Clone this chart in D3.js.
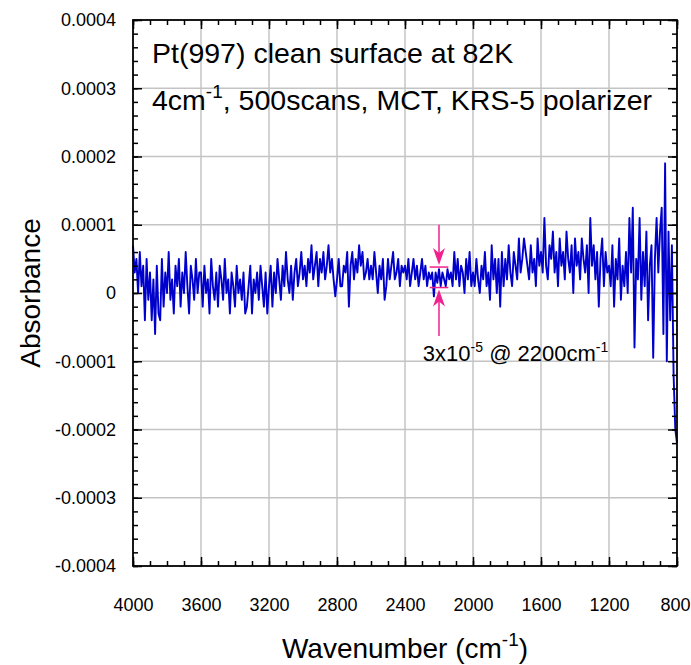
<!DOCTYPE html>
<html>
<head>
<meta charset="utf-8">
<script src="https://cdn.jsdelivr.net/npm/d3@7"></script>
<style>
  body { margin: 0; background: #fff; }
  text { font-family: Arial, "Liberation Sans", sans-serif; fill: #000; }
</style>
</head>
<body>
<svg id="chart" width="691" height="665"></svg>
<script>
// ── Data: absorbance in units of 1e-5, sampled every 10 cm-1 from 4000 down ──
const wnStart = 4000, wnStep = 10;
const seg4000 = [7, 3, 5, 0, 6, 1, 4, -4, 5, -1, 3, -4, 2, -6, 4, -3, -4, 5, -2, 3, 0, 6, -1, 2, -3, 4, 1, 5, -2, 3, 0, 6, 1, -3, 4, 2, -1, 5, 0, 3];
const seg3600 = [3, -2, 4, 0, 2, -3, 5, 1, -1, 3, -2, 4, 2, -1, 5, 0, 2, -3, 3, 1, -2, 4, 0, 2, -1, 3, -3, -2, 1, 4, -3, 2, 0, 3, -1, 4, 1, -2, 3, -3];
const seg3200 = [1, 4, -2, 3, 0, 5, 2, -1, 4, 1, 6, 2, 0, 4, -1, 3, 5, 1, 3, 6, 2, 4, 1, 5, 3, 7, 2, 4, 6, 1, 5, 3, 6, 2, 4, 7, 3, 5, 2, -0.5];
const seg2800 = [2, 5, 1, 1, 4, 3, 6, -2, 4, 6, 2, 5, 3, 7, 4, 6, 2, 3, 5, 2, 4, 2, 6, 3, 0, 4, 2, 5, -1, 1, 5, 2, 4, 6, 2, 3, 5, 1, 4, 3];
const seg2400 = [4, 2, 5, 1, 3, 5, 2, 4, 1, 3, 5, 2, 4, 1, 3, 2, 3, -0.5, 3, 1.5, 3.5, 1, 3, 2, 1, 3.5, 2, 3, 1, 6, 2, 5, 1, 4, 3, 0, 5, 2, 6, 1];
const seg2000 = [3, 1, 5, 2, 0, 4, 2, 6, 1, 3, -1, 7, 2, 5, 0, 5, -2, 6, 1, 5, 2, 7, 3, 1, 6, 4, 2, 8, 3, 5, 8, 6, 4, 2, 7, 3, 5, 1, 8, 4];
const seg1600 = [6, 3, 11, 4, 2, 7, 5, 9, 3, 6, 1, 8, 4, 6, 2, 9, 5, 3, 7, 0, 8, 4, 6, 2, 8, 5, 3, 7, 0, 11, 4, 7, 2, 6, -2, 5, 8, 1, 6, 3];
const seg1200 = [4, 1, 7, -2, 5, 2, 8, -1, 4, 1, 6, 0, 11, 3, 12.5, -8, 5, 2, 11, -1, 6, 1, 9, -4, 4, 7, -9.5, 5, 11, 3, 9, 12.5, -6, 19, -10, 9, -4, 7, -12, -20];
const seg800 = [-22];

const absorbance = [...seg4000, ...seg3600, ...seg3200, ...seg2800,
                    ...seg2400, ...seg2000, ...seg1600, ...seg1200, ...seg800];
const spectrum = absorbance.map((v, i) => ({ wn: wnStart - i * wnStep, a: v * 1e-5 }));

// ── Axis ticks ──
const xMajor = [4000, 3600, 3200, 2800, 2400, 2000, 1600, 1200, 800];
const yMajor = [-0.0004, -0.0003, -0.0002, -0.0001, 0, 0.0001, 0.0002, 0.0003, 0.0004];
const xMinor = d3.range(800, 4001, 100);
const yMinor = d3.range(-40, 41, 2).map(d => d * 1e-5);

const titleLines = ['Pt(997) clean surface at 82K'];
const noteWn = 2200;
const noteBand = [0.8e-5, 3.8e-5];

// ── Layout ──
const W = 691, H = 665;
const M = { top: 20, right: 14, bottom: 99, left: 133 };
const iw = W - M.left - M.right;
const ih = H - M.top - M.bottom;

const x = d3.scaleLinear().domain([4000, 800]).range([0, iw]);
const y = d3.scaleLinear().domain([-0.0004, 0.0004]).range([ih, 0]);

const svg = d3.select('#chart');
const g = svg.append('g').attr('transform', `translate(${M.left},${M.top})`);

// ── Grid ──
g.selectAll('.gx').data(xMajor.slice(1, -1)).join('line')
  .attr('x1', d => x(d)).attr('x2', d => x(d)).attr('y1', 0).attr('y2', ih)
  .attr('stroke', '#c4c4c4').attr('stroke-width', 1.5);
g.selectAll('.gy').data(yMajor.slice(1, -1)).join('line')
  .attr('x1', 0).attr('x2', iw).attr('y1', d => y(d)).attr('y2', d => y(d))
  .attr('stroke', '#c4c4c4').attr('stroke-width', 1.5);

// ── Spectrum ──
g.append('path').datum(spectrum)
  .attr('fill', 'none').attr('stroke', '#0000cc').attr('stroke-width', 1.9)
  .attr('stroke-linejoin', 'round')
  .attr('d', d3.line().x(d => x(d.wn)).y(d => y(d.a)));

// ── Axes (ticks inward on all four sides) ──
function styleAxis(a) {
  a.select('.domain').remove();
  a.selectAll('line').attr('stroke', '#000').attr('stroke-width', 1.5);
  a.selectAll('text').attr('font-size', 18).attr('fill', '#000')
    .attr('font-family', 'Arial, "Liberation Sans", sans-serif');
}
const noLab = () => '';
g.append('g').attr('transform', `translate(0,${ih})`)
  .call(d3.axisBottom(x).tickValues(xMinor).tickSize(-5).tickFormat(noLab)).call(styleAxis);
g.append('g').attr('transform', `translate(0,${ih})`)
  .call(d3.axisBottom(x).tickValues(xMajor).tickSize(-9).tickPadding(32).tickFormat(d3.format('d')))
  .call(styleAxis)
  .call(a => a.selectAll('.tick').filter(d => d === 800).select('text')
    .attr('text-anchor', 'end').attr('x', 13));
g.append('g')
  .call(d3.axisTop(x).tickValues(xMinor).tickSize(-5).tickFormat(noLab)).call(styleAxis);
g.append('g')
  .call(d3.axisTop(x).tickValues(xMajor).tickSize(-9).tickFormat(noLab)).call(styleAxis);

g.append('g')
  .call(d3.axisLeft(y).tickValues(yMinor).tickSize(-5).tickFormat(noLab)).call(styleAxis);
g.append('g')
  .call(d3.axisLeft(y).tickValues(yMajor).tickSize(-9).tickPadding(17)
    .tickFormat(d => Math.abs(d) < 1e-12 ? '0' : d.toFixed(4)))
  .call(styleAxis);
g.append('g').attr('transform', `translate(${iw},0)`)
  .call(d3.axisRight(y).tickValues(yMinor).tickSize(-5).tickFormat(noLab)).call(styleAxis);
g.append('g').attr('transform', `translate(${iw},0)`)
  .call(d3.axisRight(y).tickValues(yMajor).tickSize(-9).tickFormat(noLab)).call(styleAxis);

// Frame
g.append('rect').attr('width', iw).attr('height', ih)
  .attr('fill', 'none').attr('stroke', '#000').attr('stroke-width', 1.8);

// ── Title text inside plot ──
g.append('text').attr('x', 19).attr('y', 43).attr('font-size', 28.5).text(titleLines[0]);
const t2 = g.append('text').attr('x', 19).attr('y', 90).attr('font-size', 28.5);
t2.append('tspan').text('4cm');
t2.append('tspan').attr('dy', -12).attr('font-size', 19).text('-1');
t2.append('tspan').attr('dy', 12).text(', 500scans, MCT, KRS-5 polarizer');

// ── Noise annotation ──
const pink = '#f0208c';
const ax = x(noteWn);
const yTop = y(noteBand[1]), yBot = y(noteBand[0]);
const ann = g.append('g');
[yTop, yBot].forEach(yy => ann.append('line')
  .attr('x1', x(noteWn + 55)).attr('x2', x(noteWn - 55)).attr('y1', yy).attr('y2', yy)
  .attr('stroke', pink).attr('stroke-width', 1.5));
ann.append('line').attr('x1', ax).attr('x2', ax).attr('y1', y(1.0e-4)).attr('y2', yTop - 8)
  .attr('stroke', pink).attr('stroke-width', 1.5);
ann.append('line').attr('x1', ax).attr('x2', ax).attr('y1', yBot + 8).attr('y2', y(-6.3e-5))
  .attr('stroke', pink).attr('stroke-width', 1.5);
const tipDown = yTop - 2, tipUp = yBot + 2;
ann.append('path').attr('fill', pink)
  .attr('d', `M${ax},${tipDown} L${ax - 6},${tipDown - 17} L${ax},${tipDown - 12} L${ax + 6},${tipDown - 17} Z`);
ann.append('path').attr('fill', pink)
  .attr('d', `M${ax},${tipUp} L${ax - 6},${tipUp + 17} L${ax},${tipUp + 12} L${ax + 6},${tipUp + 17} Z`);

const note = g.append('text').attr('x', x(2295)).attr('y', y(-1.0e-4)).attr('font-size', 22);
note.append('tspan').text('3x10');
note.append('tspan').attr('dy', -9).attr('font-size', 14).text('-5');
note.append('tspan').attr('dy', 9).text(' @ 2200cm');
note.append('tspan').attr('dy', -9).attr('font-size', 14).text('-1');

// ── Axis titles ──
svg.append('text')
  .attr('transform', `translate(40,${M.top + ih / 2}) rotate(-90)`)
  .attr('text-anchor', 'middle').attr('font-size', 28).text('Absorbance');

const xt = svg.append('text').attr('x', M.left + iw / 2).attr('y', 658)
  .attr('text-anchor', 'middle').attr('font-size', 28);
xt.append('tspan').text('Wavenumber (cm');
xt.append('tspan').attr('dy', -12).attr('font-size', 19).text('-1');
xt.append('tspan').attr('dy', 12).text(')');
</script>
</body>
</html>
